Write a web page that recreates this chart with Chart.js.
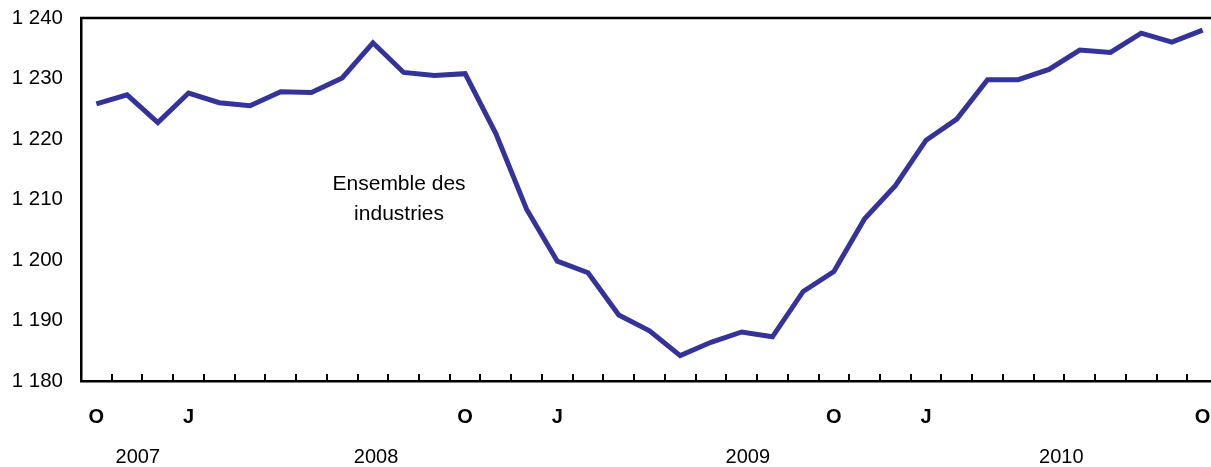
<!DOCTYPE html>
<html>
<head>
<meta charset="utf-8">
<script src="https://cdn.jsdelivr.net/npm/chart.js@4/dist/chart.umd.min.js"></script>
<style>
  html, body { margin: 0; padding: 0; background: #fff; overflow: hidden; }
  #wrap { width: 1240px; height: 467px; position: relative; }
</style>
</head>
<body>
<div id="wrap"><canvas id="c" width="1240" height="467"></canvas></div>
<script>
// ---- data ----
const months = ['2007-10','2007-11','2007-12','2008-01','2008-02','2008-03','2008-04','2008-05','2008-06','2008-07','2008-08','2008-09',
  '2008-10','2008-11','2008-12','2009-01','2009-02','2009-03','2009-04','2009-05','2009-06','2009-07','2009-08','2009-09',
  '2009-10','2009-11','2009-12','2010-01','2010-02','2010-03','2010-04','2010-05','2010-06','2010-07','2010-08','2010-09','2010-10'];
const tickLabels = ['O','','','J','','','','','','','','',
  'O','','','J','','','','','','','','',
  'O','','','J','','','','','','','','','O'];
const ensembleIndustries = [1225.8,1227.3,1222.7,1227.6,1226.0,1225.5,1227.8,1227.7,1230.1,1235.9,1231.0,1230.5,
  1230.8,1220.9,1208.4,1199.8,1197.9,1190.9,1188.3,1184.2,1186.4,1188.1,1187.3,1194.8,
  1198.1,1206.8,1212.3,1219.8,1223.3,1229.8,1229.8,1231.5,1234.7,1234.3,1237.5,1236.0,1238.0];
const yearLabels = ['2007','2008','2009','2010'];
const yearPositions = [1.35, 9.1, 21.2, 31.4];
const seriesLabel = ['Ensemble des', 'industries'];
const seriesLabelPos = { x: 9.85, y: 1210 };
const yMin = 1180, yMax = 1240, yStep = 10;

const FONT = "'Liberation Sans', Arial, Helvetica, sans-serif";

const decorPlugin = {
  id: 'decor',
  afterDraw(chart) {
    const ctx = chart.ctx;
    const xs = chart.scales.x, ys = chart.scales.y;
    const area = chart.chartArea;
    ctx.save();
    // top border
    ctx.strokeStyle = '#000';
    ctx.lineWidth = 2.5;
    ctx.beginPath();
    ctx.moveTo(area.left - 1, area.top);
    ctx.lineTo(chart.width, area.top);
    ctx.stroke();
    // inner tick marks between categories
    ctx.lineWidth = 2;
    for (let i = 1; i < months.length; i++) {
      const px = Math.round(xs.getPixelForValue(i - 0.5));
      ctx.beginPath();
      ctx.moveTo(px, area.bottom);
      ctx.lineTo(px, area.bottom - 7);
      ctx.stroke();
    }
    // year labels
    ctx.fillStyle = '#000';
    ctx.font = '20px ' + FONT;
    ctx.textAlign = 'center';
    ctx.textBaseline = 'middle';
    yearLabels.forEach((t, i) => {
      ctx.fillText(t, xs.getPixelForValue(yearPositions[i]), 457);
    });
    // series label
    ctx.font = '21px ' + FONT;
    const cx = xs.getPixelForValue(seriesLabelPos.x);
    const cy = ys.getPixelForValue(seriesLabelPos.y);
    ctx.fillText(seriesLabel[0], cx, cy - 15);
    ctx.fillText(seriesLabel[1], cx, cy + 15);
    ctx.restore();
  }
};

new Chart(document.getElementById('c'), {
  type: 'line',
  data: {
    labels: months,
    datasets: [{
      label: 'Ensemble des industries',
      data: ensembleIndustries,
      borderColor: '#333399',
      borderWidth: 5,
      pointRadius: 0,
      tension: 0,
      fill: false,
      borderJoinStyle: 'miter'
    }]
  },
  options: {
    responsive: false,
    animation: false,
    layout: { padding: { top: 18, right: 22, left: 0, bottom: 0 } },
    plugins: { legend: { display: false }, tooltip: { enabled: false } },
    scales: {
      x: {
        type: 'category',
        offset: true,
        grid: { display: false, drawTicks: false },
        border: { display: true, color: '#000', width: 2.5 },
        ticks: {
          autoSkip: false,
          maxRotation: 0,
          padding: 24,
          color: '#000',
          font: { family: FONT, size: 20, weight: 'bold' },
          callback: (v, i) => tickLabels[i]
        },
        afterFit: s => { s.height = 86; s.paddingLeft = 0; s.paddingRight = 0; }
      },
      y: {
        min: yMin, max: yMax,
        grid: { display: false, drawTicks: false },
        border: { display: true, color: '#000', width: 2.5 },
        ticks: {
          stepSize: yStep,
          padding: 18,
          color: '#000',
          font: { family: FONT, size: 20.5 },
          callback: v => String(v).replace(/\B(?=(\d{3})+(?!\d))/g, ' ')
        },
        afterFit: s => { s.width = 81; s.paddingTop = 0; s.paddingBottom = 0; }
      }
    }
  },
  plugins: [decorPlugin]
});
</script>
</body>
</html>
